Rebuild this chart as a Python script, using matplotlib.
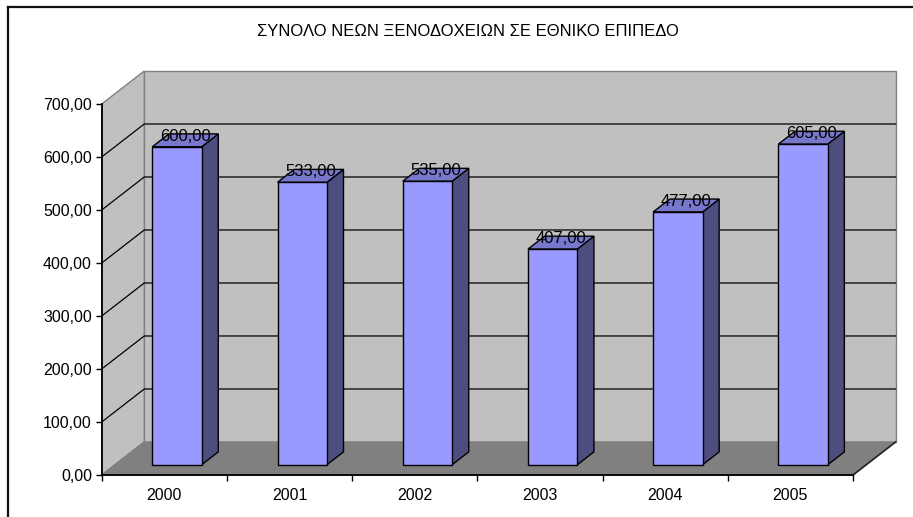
import matplotlib
matplotlib.use("Agg")
import matplotlib.pyplot as plt
from matplotlib.patches import Polygon
from matplotlib.lines import Line2D
from matplotlib.ticker import FuncFormatter, FixedLocator

plt.rcParams["font.family"] = ["Liberation Sans", "DejaVu Sans"]

TITLE = "ΣΥΝΟΛΟ ΝΕΩΝ ΞΕΝΟΔΟΧΕΙΩΝ ΣΕ ΕΘΝΙΚΟ ΕΠΙΠΕΔΟ"
years = ["2000", "2001", "2002", "2003", "2004", "2005"]
hotels = [600, 533, 535, 407, 477, 605]
y_ticks = [0, 100, 200, 300, 400, 500, 600, 700]

# fake 3d: how far the back wall sits from the front plane, in data units
DX, DY = 0.34, 62.3
D_FRONT, D_BACK = 0.31, 0.70       # bar depth span (0 = front, 1 = back wall)
BAR_L, BAR_R = 0.299, 0.693        # bar edges inside a category slot

WALL = "#C0C0C0"
FLOOR = "#808080"
EDGE = "#808080"
C_FRONT = "#9999FF"
C_TOP = "#7777CC"
C_SIDE = "#4D4D80"
FS = 11.5


def pj(x, y, d):
    return (x + d * DX, y + d * DY)


W, H = 913, 517
fig = plt.figure(figsize=(W / 100, H / 100), dpi=100)
fig.patch.set_facecolor("white")

# outer chart frame (only top and left edge are inside the picture)
fig.add_artist(Line2D([7.5 / W, 7.5 / W], [0, 1 - 7 / H], transform=fig.transFigure,
                      color="#111111", lw=1.6))
fig.add_artist(Line2D([7.5 / W, 1], [1 - 7 / H, 1 - 7 / H], transform=fig.transFigure,
                      color="#111111", lw=1.6))
fig.text(467.5 / W, 1 - 31 / H, TITLE, ha="center", va="center", fontsize=12)

ax = fig.add_axes([101.7 / W, (H - 475) / H, (853 - 101.7) / W, (475 - 104) / H])
ax.set_xlim(0, len(years))
ax.set_ylim(0, 700)
ax.patch.set_visible(False)
for s in ("top", "right"):
    ax.spines[s].set_visible(False)
for s in ("left", "bottom"):
    ax.spines[s].set_linewidth(1.3)
    ax.spines[s].set_zorder(6)

n = len(years)
ymax = y_ticks[-1]

# walls and floor
back = [pj(0, 0, 1), pj(n, 0, 1), pj(n, ymax, 1), pj(0, ymax, 1)]
left = [pj(0, 0, 0), pj(0, 0, 1), pj(0, ymax, 1), pj(0, ymax, 0)]
floor = [pj(0, 0, 0), pj(n, 0, 0), pj(n, 0, 1), pj(0, 0, 1)]
ax.add_patch(Polygon(back, closed=True, fc=WALL, ec=EDGE, lw=1, clip_on=False, zorder=1))
ax.add_patch(Polygon(left, closed=True, fc=WALL, ec=EDGE, lw=1, clip_on=False, zorder=1))
ax.add_patch(Polygon(floor, closed=True, fc=FLOOR, ec=EDGE, lw=1, clip_on=False, zorder=2))
ax.add_line(Line2D(*zip(pj(n, 0, 0), pj(n, 0, 1)), color="#222222", lw=1.2,
                   clip_on=False, zorder=2))

# gridlines across the side wall and the back wall
for v in y_ticks[1:-1]:
    pts = [pj(0, v, 0), pj(0, v, 1), pj(n, v, 1)]
    ax.add_line(Line2D([p[0] for p in pts], [p[1] for p in pts], color="black",
                       lw=0.9, clip_on=False, zorder=1.5))

# bars, left to right
for i, v in enumerate(hotels):
    x0, x1 = i + BAR_L, i + BAR_R
    side = [pj(x1, 0, D_FRONT), pj(x1, 0, D_BACK), pj(x1, v, D_BACK), pj(x1, v, D_FRONT)]
    top = [pj(x0, v, D_FRONT), pj(x1, v, D_FRONT), pj(x1, v, D_BACK), pj(x0, v, D_BACK)]
    front = [pj(x0, 0, D_FRONT), pj(x1, 0, D_FRONT), pj(x1, v, D_FRONT), pj(x0, v, D_FRONT)]
    for poly, col in ((side, C_SIDE), (top, C_TOP), (front, C_FRONT)):
        ax.add_patch(Polygon(poly, closed=True, fc=col, ec="black", lw=1,
                             clip_on=False, zorder=3, joinstyle="miter"))
    lx, _ = pj((x0 + x1) / 2, v, (D_FRONT + D_BACK) / 2)
    _, ly = pj(0, v, D_BACK)
    ax.annotate(f"{v:.2f}".replace(".", ","), (lx, ly), xytext=(0, -5),
                textcoords="offset points", ha="center", va="baseline",
                fontsize=12, zorder=5, annotation_clip=False)

# axes ticks
ax.yaxis.set_major_locator(FixedLocator(y_ticks))
ax.yaxis.set_major_formatter(FuncFormatter(lambda v, p: f"{v:.2f}".replace(".", ",")))
ax.tick_params(axis="y", direction="out", length=4, width=1, pad=3, labelsize=FS)

ax.xaxis.set_major_locator(FixedLocator(range(n + 1)))
ax.xaxis.set_major_formatter(FuncFormatter(lambda v, p: ""))
ax.xaxis.set_minor_locator(FixedLocator([i + 0.5 for i in range(n)]))
ax.set_xticklabels(years, minor=True)
ax.tick_params(axis="x", which="major", direction="out", length=4.3, width=1)
ax.tick_params(axis="x", which="minor", length=0, pad=9, labelsize=FS)

fig.savefig("out.png", dpi=100)
